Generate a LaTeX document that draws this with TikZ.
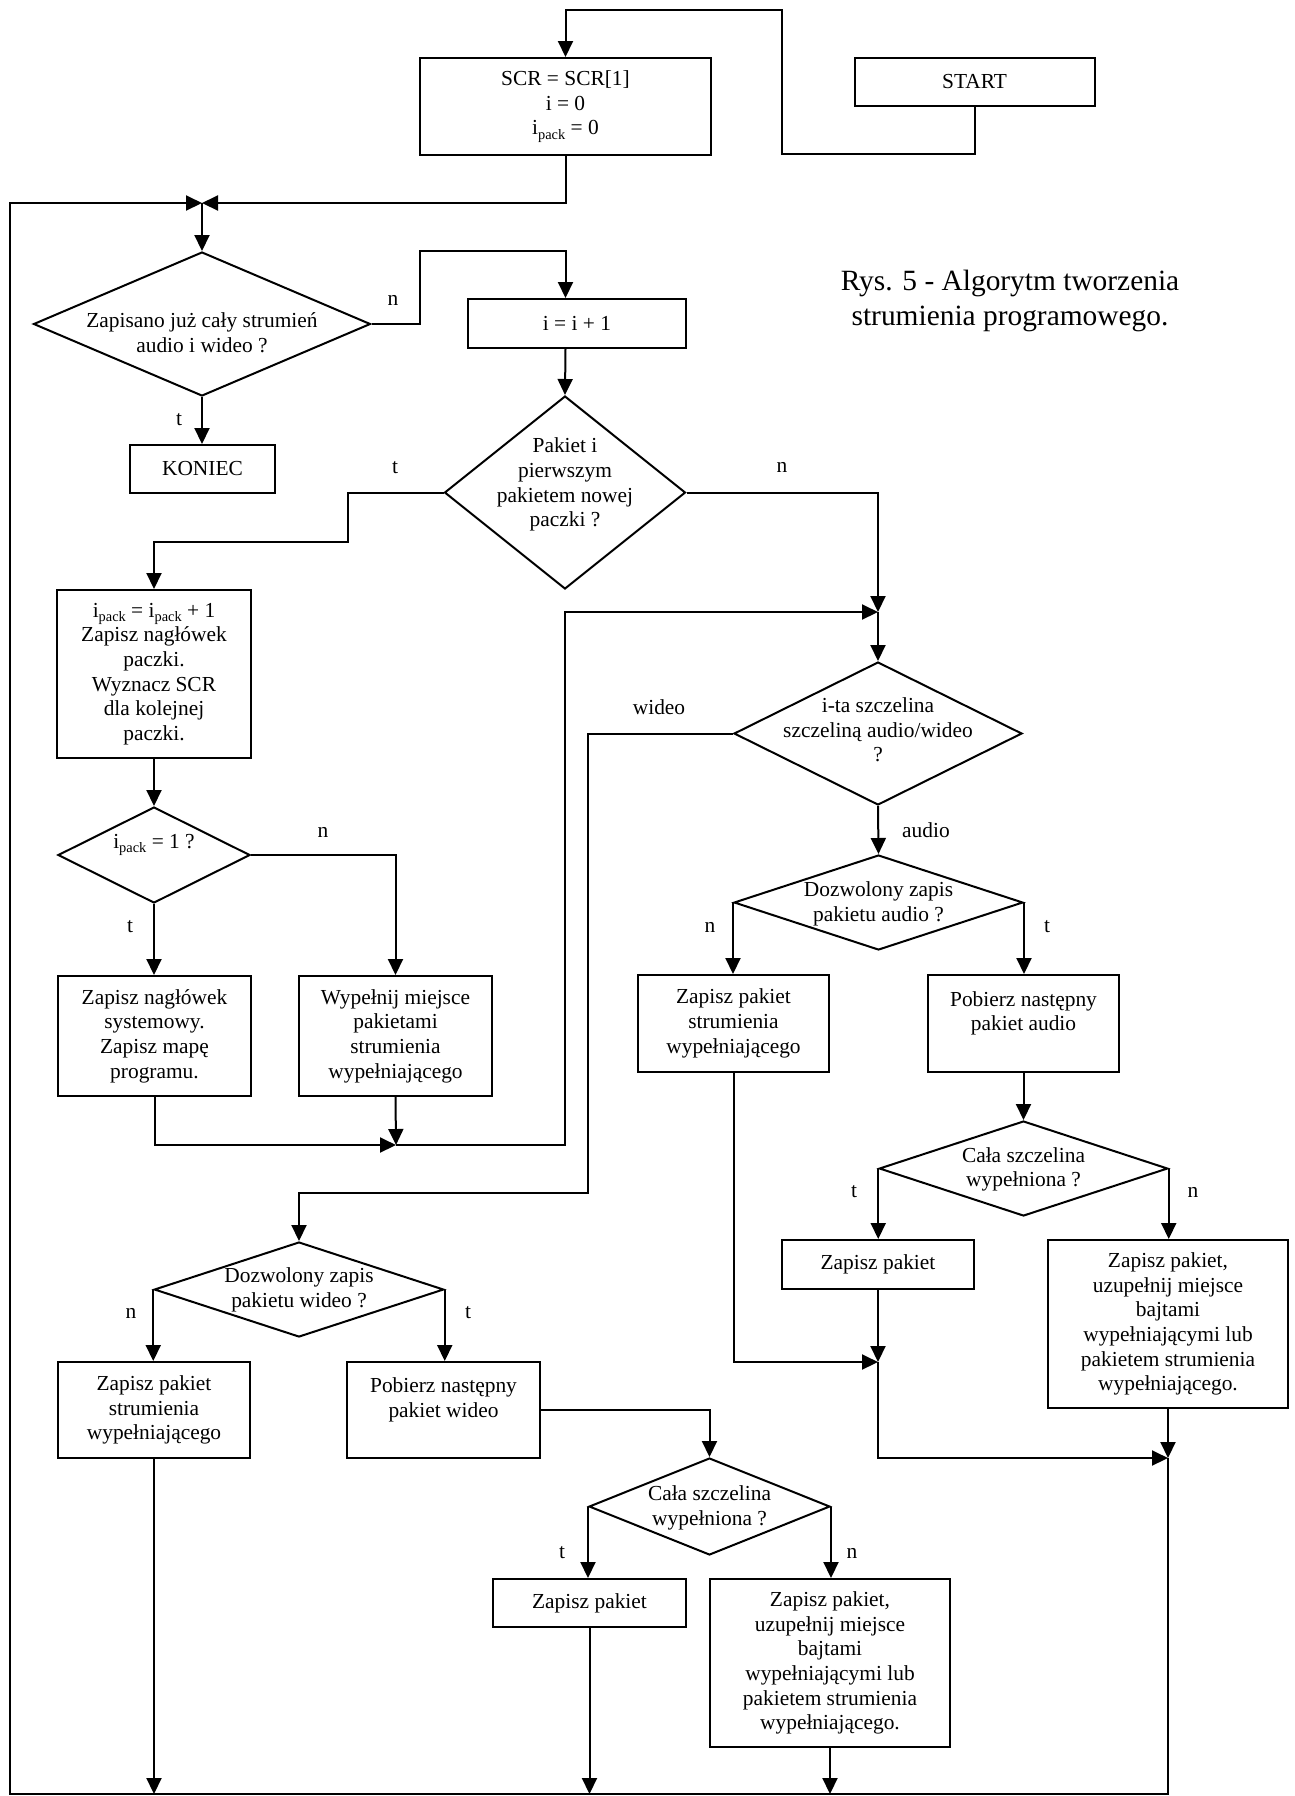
\documentclass[tikz,border=0pt]{standalone}
\usepackage{fontspec}
\setmainfont{Liberation Serif}
\usetikzlibrary{shapes.geometric,arrows.meta,calc}
\newcommand\bodyf{\fontsize{10.7}{12.35}\selectfont}
\newcommand\titlef{\fontsize{14.7}{17.5}\selectfont}
\newcommand\pk{\raisebox{-0.45ex}{\fontsize{7.2}{7.2}\selectfont pack}}
\begin{document}
\begin{tikzpicture}[x=0.5pt,y=-0.5pt,line width=1pt,
  box/.style={draw,rectangle,inner sep=0pt,align=center,font=\bodyf},
  dia/.style={draw,diamond,inner sep=0pt},
  txt/.style={align=center,inner sep=0pt,font=\bodyf},
  lab/.style={inner sep=0pt,font=\bodyf},
  arr/.style={-{Triangle[width=7.5pt,length=8pt]}}]
\useasboundingbox (0,0) rectangle (1295,1796);

% junctions
\coordinate (j1) at (202,203);
\coordinate (j2) at (878,612);
\coordinate (j3) at (396,1145);
\coordinate (j4) at (878,1362);
\coordinate (j5) at (1168,1458);
\coordinate (tl) at (10,203);
\coordinate (bl) at (10,1794);
\coordinate (br) at (1168,1794);

% boxes
\node[box,minimum width=145.5pt,minimum height=48.5pt] (scr) at (565.5,106.5) {SCR = SCR[1]\\ i = 0\\ i\pk{} = 0};
\node[box,minimum width=120pt,minimum height=24pt] (start) at (974.5,82) {START};
\node[box,minimum width=109pt,minimum height=24.5pt] (ipl) at (577,323.5) {i = i + 1};
\node[box,minimum width=72.5pt,minimum height=24pt] (kon) at (202.5,469) {KONIEC};
\node[box,minimum width=97pt,minimum height=84pt] (ipk) at (154,674) {i\pk{} = i\pk{} + 1\\ Zapisz nagłówek\\ paczki.\\ Wyznacz SCR\\ dla kolejnej\\ paczki.};
\node[box,minimum width=96.5pt,minimum height=60pt] (sys) at (154.5,1036) {Zapisz nagłówek\\ systemowy.\\ Zapisz mapę\\ programu.};
\node[box,minimum width=96.5pt,minimum height=60pt] (wyp) at (395.5,1036) {Wypełnij miejsce\\ pakietami\\ strumienia\\ wypełniającego};
\node[box,minimum width=95.5pt,minimum height=48.5pt] (afill) at (733.5,1023.5) {Zapisz pakiet\\ strumienia\\ wypełniającego};
\node[box,minimum width=95.5pt,minimum height=48.5pt] (paud) at (1023.5,1023.5) {Pobierz następny\\ pakiet audio\\ ~};
\node[box,minimum width=96pt,minimum height=24.5pt] (zaud) at (878,1264.5) {Zapisz pakiet};
\node[box,minimum width=120pt,minimum height=84pt] (baud) at (1168,1324) {Zapisz pakiet,\\ uzupełnij miejsce\\ bajtami\\ wypełniającymi lub\\ pakietem strumienia\\ wypełniającego.};
\node[box,minimum width=96pt,minimum height=48pt] (wfill) at (154,1410) {Zapisz pakiet\\ strumienia\\ wypełniającego};
\node[box,minimum width=96.5pt,minimum height=48pt] (pwid) at (443.5,1410) {Pobierz następny\\ pakiet wideo\\ ~};
\node[box,minimum width=96.5pt,minimum height=24pt] (zwid) at (589.5,1603) {Zapisz pakiet};
\node[box,minimum width=120pt,minimum height=84pt] (bwid) at (830,1663) {Zapisz pakiet,\\ uzupełnij miejsce\\ bajtami\\ wypełniającymi lub\\ pakietem strumienia\\ wypełniającego.};

% diamonds
\node[dia,minimum width=168.5pt,minimum height=72pt] (d1) at (202,324) {};
\node[txt] (t1) at (202,332.5) {Zapisano już cały strumień\\ audio i wideo ?};
\node[dia,minimum width=120.5pt,minimum height=96.5pt] (d2) at (565,492.5) {};
\node[txt] (t2) at (565,484.5) {Pakiet i\\ pierwszym\\ pakietem nowej\\ paczki ?};
\node[dia,minimum width=96pt,minimum height=48pt] (d3) at (154,855) {};
\node[txt] (t3) at (154,845) {i\pk{} = 1 ?};
\node[dia,minimum width=144pt,minimum height=71.5pt] (d4) at (878,733.5) {};
\node[txt] (t4) at (878,730) {i-ta szczelina\\ szczeliną audio/wideo\\ ?};
\node[dia,minimum width=144.5pt,minimum height=47.5pt] (d6) at (878.5,902.5) {};
\node[txt] (t6) at (878.5,904) {Dozwolony zapis\\ pakietu audio ?};
\node[dia,minimum width=144.75pt,minimum height=47.5pt] (d5) at (299,1289.5) {};
\node[txt] (t5) at (299,1290) {Dozwolony zapis\\ pakietu wideo ?};
\node[dia,minimum width=144.25pt,minimum height=47.5pt] (d7) at (1023.5,1168.5) {};
\node[txt] (t7) at (1023.5,1169.5) {Cała szczelina\\ wypełniona ?};
\node[dia,minimum width=120.5pt,minimum height=48.5pt] (d8) at (709.5,1506.5) {};
\node[txt] (t8) at (709.5,1508) {Cała szczelina\\ wypełniona ?};

% title
\node[align=center,inner sep=0pt,font=\titlef] (title) at (1010,300.5) {Rys. 5 - Algorytm tworzenia\\ strumienia programowego.};

% labels
\node[lab] (l1) at (393,300) {n};
\node[lab] (l2) at (179,420) {t};
\node[lab] (l3) at (395,468) {t};
\node[lab] (l4) at (782,467) {n};
\node[lab] (l5) at (323,832) {n};
\node[lab] (l6) at (130,927) {t};
\node[lab] (l7) at (659,707) {wideo};
\node[lab] (l8) at (926,830) {audio};
\node[lab] (l9) at (710,927) {n};
\node[lab] (l10) at (1047,927) {t};
\node[lab] (l11) at (131,1313) {n};
\node[lab] (l12) at (468,1313) {t};
\node[lab] (l13) at (854,1192) {t};
\node[lab] (l14) at (1193,1192) {n};
\node[lab] (l15) at (562,1553) {t};
\node[lab] (l16) at (852,1553) {n};

% connectors
\draw[arr] (start.south) |- (782,154) -- (782,10) -| (scr.north);
\draw[arr] (scr.south) |- (j1);
\draw[arr] (j5) -- (br) -- (bl) -- (tl) -- (j1);
\draw[arr] (j1) -- (d1.north);
\draw[arr] (d1.south) -- (d1.south |- kon.north);
\draw[arr] (d1.east) -- (420,324) -- (420,251) -| (scr.south |- ipl.north);
\draw[arr] (scr.south |- ipl.south) -- (d2.north);
\draw[arr] (d2.west) -- (348,492.5) -- (348,542) -| (ipk.north);
\draw[arr] (d2.east) -| (j2);
\draw[arr] (ipk.south) -- (d3.north);
\draw[arr] (d3.south) -- (d3.south |- sys.north);
\draw[arr] (d3.east) -| (wyp.north);
\draw[arr] (sys.south) |- (j3);
\draw[arr] (wyp.south) -- (j3);
\draw[arr] (j3) -- (565,1145) -- (565,612) -- (j2);
\draw[arr] (j2) -- (d4.north);
\draw[arr] (d4.west) -- (588,733.5) -- (588,1193) -| (d5.north);
\draw[arr] (d4.south) -- (d6.north);
\draw[arr] (d6.west) -- (d6.west |- afill.north);
\draw[arr] (d6.east) -- (d6.east |- paud.north);
\draw[arr] (paud.south) -- (d7.north);
\draw[arr] (d7.west) -- (d7.west |- zaud.north);
\draw[arr] (d7.east) -- (d7.east |- baud.north);
\draw[arr] (afill.south) |- (j4);
\draw[arr] (zaud.south) -- (j4);
\draw[arr] (j4) |- (j5);
\draw[arr] (baud.south) -- (j5);
\draw[arr] (d5.west) -- (d5.west |- wfill.north);
\draw[arr] (d5.east) -- (d5.east |- pwid.north);
\draw[arr] (pwid.east) -| (d8.north);
\draw[arr] (d8.west) -- (d8.west |- zwid.north);
\draw[arr] (d8.east) -- (d8.east |- bwid.north);
\draw[arr] (wfill.south) -- (wfill.south |- bl);
\draw[arr] (zwid.south) -- (zwid.south |- bl);
\draw[arr] (bwid.south) -- (bwid.south |- bl);
\end{tikzpicture}
\end{document}
